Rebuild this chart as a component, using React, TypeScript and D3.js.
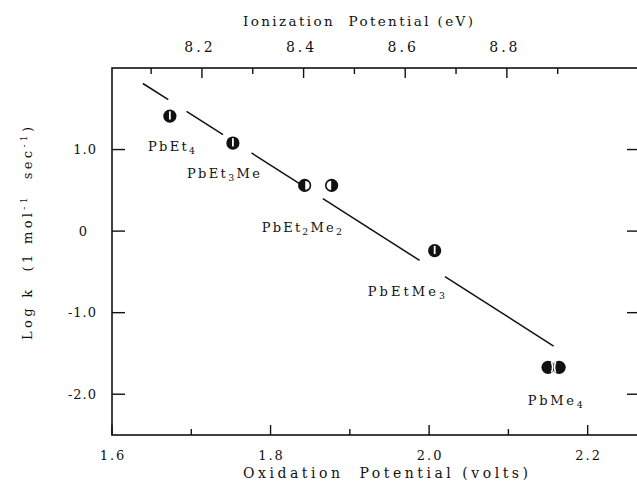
import { useEffect, useRef } from 'react';
import * as d3 from 'd3';

// Oxidation potential (V) vs log k for the ethyl/methyl lead series
const compounds = ['PbEt{4}', 'PbEt{3}Me', 'PbEt{2}Me{2}', 'PbEtMe{3}', 'PbMe{4}'];
const pointX = [1.673, 1.7525, 1.843, 1.877, 2.007, 2.15, 2.164];
const pointY = [1.41, 1.08, 0.56, 0.56, -0.24, -1.67, -1.67];
const markerKinds = ['bar', 'bar', 'halfR', 'halfL', 'bar', 'dblL', 'dblR'];

// correlation line, drawn broken around the points
const fitLine = [
  { x: 1.639, y: 1.81 },
  { x: 2.157, y: -1.41 },
];
const fitPieces = [
  [1.639, 1.671],
  [1.694, 1.74],
  [1.776, 1.837],
  [1.866, 1.988],
  [2.02, 2.157],
];

// label anchors (start x, baseline y) in data units
const labelX = [1.6454, 1.6945, 1.789, 1.9227, 2.1244];
const labelY = [0.98, 0.65, -0.01, -0.8, -2.13];
const labelLen = [47, 73, 80, 77, 55];

const xDomain = [1.6, 2.266];
const yDomain = [-2.5, 2.0];
const ionDomain = [8.023, 9.062];
const xTicks = [1.6, 1.8, 2.0, 2.2];
const xMinor = [1.7, 1.9, 2.1];
const yTicks = [1.0, 0, -1.0, -2.0];
const ionTicks = [8.2, 8.4, 8.6, 8.8];
const ionMinor = [8.1, 8.3, 8.5, 8.7, 8.9];

const TYPE = "'DejaVu Serif', 'Liberation Serif', serif";
const SERIF = "'DejaVu Serif', 'Liberation Serif', serif";
const INK = '#111';

function addSubText(sel: any, label: string, size: number) {
  // "PbEt{4}" -> PbEt with subscript 4
  const parts = label.split(/(\{[^}]*\})/).filter(p => p.length);
  let shifted = false;
  parts.forEach(p => {
    if (p.startsWith('{')) {
      sel.append('tspan').attr('dy', 3).attr('font-size', size * 0.72).text(p.slice(1, -1));
      shifted = true;
    } else {
      const t = sel.append('tspan').text(p);
      if (shifted) t.attr('dy', -3);
      shifted = false;
    }
  });
}

export default function App() {
  const svgRef = useRef<SVGSVGElement>(null);

  useEffect(() => {
    if (!svgRef.current) return;
    const svg = d3.select(svgRef.current);
    svg.selectAll('*').remove();

    const width = 637;
    const height = 486;
    const margin = { top: 68, right: -3, bottom: 51, left: 112 };
    const L = margin.left;
    const R = width - margin.right;
    const T = margin.top;
    const B = height - margin.bottom;

    svg.attr('viewBox', `0 0 ${width} ${height}`);

    const x = d3.scaleLinear().domain(xDomain).range([L, R]);
    const y = d3.scaleLinear().domain(yDomain).range([B, T]);
    const ion = d3.scaleLinear().domain(ionDomain).range([L, R]);

    svg.append('rect').attr('width', width).attr('height', height).attr('fill', '#fff');

    // frame
    svg.append('rect')
      .attr('x', L).attr('y', T)
      .attr('width', R - L).attr('height', B - T)
      .attr('fill', 'none')
      .attr('stroke', INK)
      .attr('stroke-width', 1.6);

    const ticks = svg.append('g').attr('stroke', INK).attr('stroke-width', 1.4);

    // bottom ticks (inward)
    xTicks.forEach(v => {
      ticks.append('line').attr('x1', x(v)).attr('x2', x(v)).attr('y1', B).attr('y2', B - 10);
    });
    xMinor.forEach(v => {
      ticks.append('line').attr('x1', x(v)).attr('x2', x(v)).attr('y1', B).attr('y2', B - 6);
    });
    // top ticks (ionization potential)
    ionTicks.forEach(v => {
      ticks.append('line').attr('x1', ion(v)).attr('x2', ion(v)).attr('y1', T).attr('y2', T + 10);
    });
    ionMinor.forEach(v => {
      ticks.append('line').attr('x1', ion(v)).attr('x2', ion(v)).attr('y1', T).attr('y2', T + 6);
    });
    // left / right ticks
    yTicks.forEach(v => {
      ticks.append('line').attr('x1', L).attr('x2', L + 13).attr('y1', y(v)).attr('y2', y(v));
      ticks.append('line').attr('x1', R).attr('x2', R - 13).attr('y1', y(v)).attr('y2', y(v));
    });

    // tick labels
    svg.append('g')
      .selectAll('text')
      .data(xTicks)
      .enter()
      .append('text')
      .attr('x', d => x(d) + 1)
      .attr('y', B + 25)
      .attr('text-anchor', 'middle')
      .attr('font-family', TYPE)
      .attr('font-size', 13)
      .attr('letter-spacing', 2)
      .attr('fill', INK)
      .text(d => d.toFixed(1));

    svg.append('g')
      .selectAll('text')
      .data(ionTicks)
      .enter()
      .append('text')
      .attr('x', d => ion(d) - 2)
      .attr('y', T - 16)
      .attr('text-anchor', 'middle')
      .attr('font-family', TYPE)
      .attr('font-size', 14)
      .attr('letter-spacing', 3)
      .attr('fill', INK)
      .text(d => d.toFixed(1));

    svg.append('g')
      .selectAll('text')
      .data(yTicks)
      .enter()
      .append('text')
      .attr('x', d => (d === 0 ? L - 24 : L - 15))
      .attr('y', d => y(d) + 4.5)
      .attr('text-anchor', 'end')
      .attr('font-family', TYPE)
      .attr('font-size', 13)
      .attr('letter-spacing', 1)
      .attr('fill', INK)
      .text(d => (d === 0 ? '0' : d.toFixed(1)));

    // axis titles
    svg.append('text')
      .attr('x', 243).attr('y', 26)
      .attr('textLength', 230)
      .attr('lengthAdjust', 'spacing')
      .attr('font-family', TYPE)
      .attr('font-size', 13.5)
      .style('white-space', 'pre')
      .attr('fill', INK)
      .text('Ionization  Potential (eV)');

    svg.append('text')
      .attr('x', 243).attr('y', 478)
      .attr('textLength', 285)
      .attr('lengthAdjust', 'spacing')
      .attr('font-family', SERIF)
      .attr('font-size', 14)
      .style('white-space', 'pre')
      .attr('fill', INK)
      .text('Oxidation  Potential (volts)');

    const yTitle = svg.append('text')
      .attr('transform', 'translate(32,340) rotate(-90)')
      .attr('textLength', 213)
      .attr('lengthAdjust', 'spacing')
      .attr('font-family', TYPE)
      .attr('font-size', 13)
      .style('white-space', 'pre')
      .attr('fill', INK);
    yTitle.append('tspan').text('Log k  (1 mol');
    yTitle.append('tspan').attr('dy', -5).attr('font-size', 9).text('-1');
    yTitle.append('tspan').attr('dy', 5).text('  sec');
    yTitle.append('tspan').attr('dy', -5).attr('font-size', 9).text('-1');
    yTitle.append('tspan').attr('dy', 5).text(')');

    // fitted line pieces
    const lineY = d3.scaleLinear().domain([fitLine[0].x, fitLine[1].x]).range([fitLine[0].y, fitLine[1].y]);
    const line = d3.line<number>().x(d => x(d)).y(d => y(lineY(d)));
    svg.append('g')
      .selectAll('path')
      .data(fitPieces)
      .enter()
      .append('path')
      .attr('d', d => line(d))
      .attr('fill', 'none')
      .attr('stroke', INK)
      .attr('stroke-width', 1.5);

    // markers
    const r = 6.6;
    const pts = pointX.map((px, i) => ({ x: px, y: pointY[i], kind: markerKinds[i] }));
    const mk = svg.append('g');
    pts.forEach(p => {
      mk.append('circle').attr('cx', x(p.x)).attr('cy', y(p.y)).attr('r', r).attr('fill', INK);
    });
    pts.forEach(p => {
      const g = mk.append('g').attr('transform', `translate(${x(p.x)},${y(p.y)})`);
      if (p.kind === 'bar') {
        g.append('rect').attr('x', -0.9).attr('y', -4.8).attr('width', 1.8).attr('height', 8.2).attr('fill', '#fff');
      } else if (p.kind === 'halfR') {
        g.append('path').attr('d', 'M0.6,-4.4 A4.4,4.4 0 0 1 0.6,4.4 Z').attr('fill', '#fff');
      } else if (p.kind === 'halfL') {
        g.append('path').attr('d', 'M-0.4,-4.6 A4.6,4.6 0 0 0 -0.4,4.6 Z').attr('fill', '#fff');
      } else if (p.kind === 'dblL') {
        g.append('path').attr('d', 'M3.4,-5.2 Q5.8,0 3.4,5.2').attr('fill', 'none').attr('stroke', '#fff').attr('stroke-width', 1.6);
      } else if (p.kind === 'dblR') {
        g.append('path').attr('d', 'M-3.4,-5.2 Q-5.8,0 -3.4,5.2').attr('fill', 'none').attr('stroke', '#fff').attr('stroke-width', 1.6);
      }
    });

    // compound labels
    compounds.forEach((c, i) => {
      const t = svg.append('text')
        .attr('x', x(labelX[i]))
        .attr('y', y(labelY[i]))
        .attr('textLength', labelLen[i])
        .attr('lengthAdjust', 'spacing')
        .attr('font-family', SERIF)
        .attr('font-size', 13)
        .attr('fill', INK);
      addSubText(t, c, 13);
    });
  }, []);

  return (
    <svg
      ref={svgRef}
      width={637}
      height={486}
      style={{ position: 'absolute', left: 0, top: 0, display: 'block', overflow: 'hidden' }}
    />
  );
}
